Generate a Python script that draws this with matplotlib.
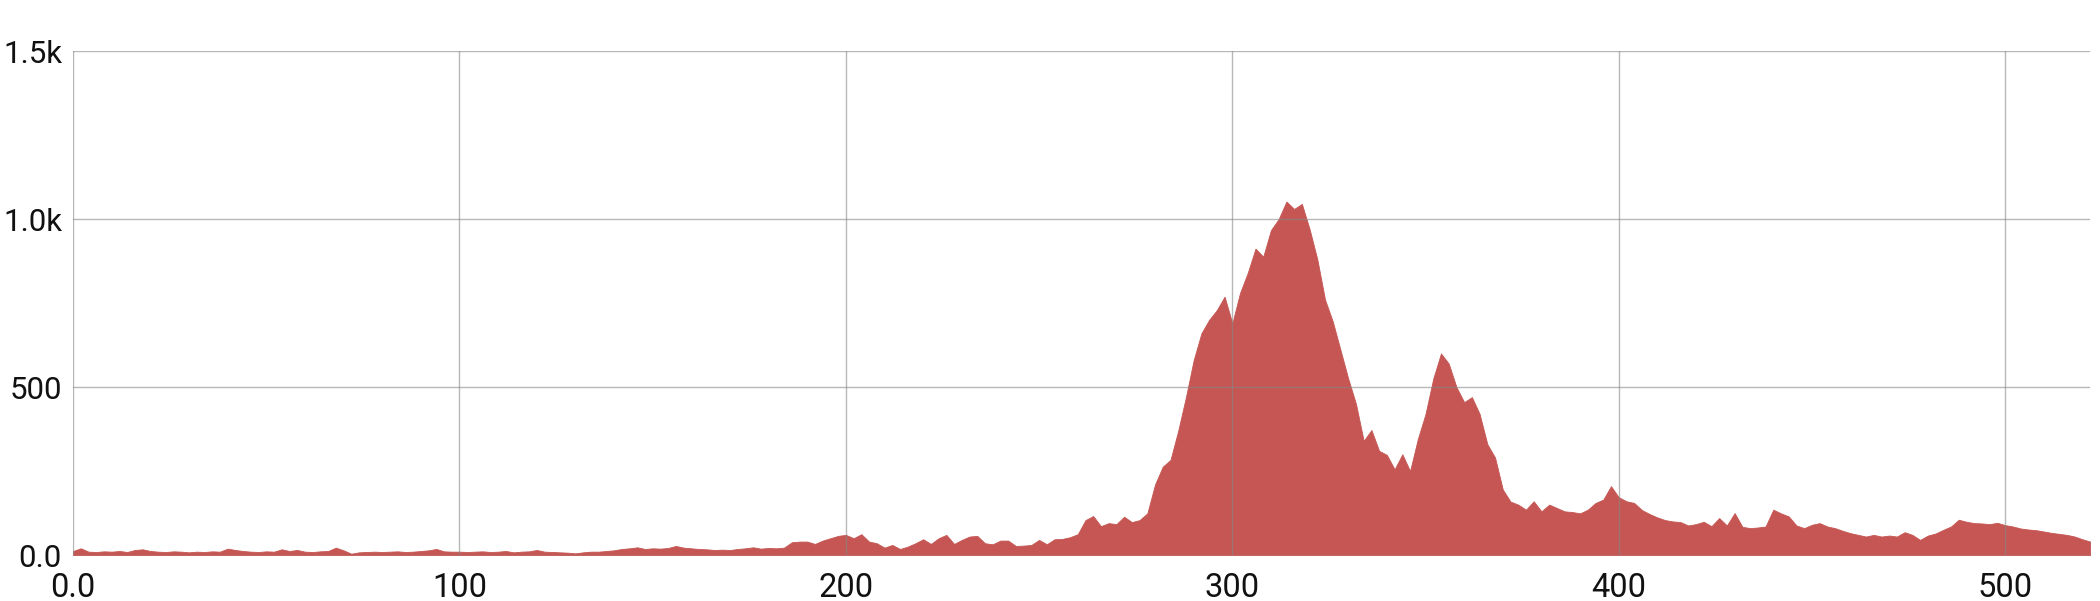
import matplotlib.pyplot as plt
from matplotlib.ticker import FixedLocator

plt.rcParams['font.family'] = ['Roboto', 'DejaVu Sans']

# x positions every 2 units
x = list(range(0, 524, 2))
y = [
    12, 20, 10, 9, 11, 10, 12, 9, 15, 17,        # 0-18
    12, 10, 9, 11, 10, 8, 10, 9, 11, 10,         # 20-38
    19, 15, 12, 10, 9, 11, 10, 17, 12, 15,       # 40-58
    10, 9, 11, 12, 22, 14, 4, 8, 9, 10,          # 60-78
    9, 10, 11, 9, 10, 12, 14, 18, 11, 10,        # 80-98
    10, 9, 10, 11, 9, 10, 12, 8, 10, 11,         # 100-118
    15, 10, 9, 8, 7, 5, 8, 10, 10, 12,           # 120-138
    14, 18, 20, 23, 18, 20, 19, 21, 27, 22,      # 140-158
    20, 18, 17, 15, 16, 15, 18, 20, 23, 19,      # 160-178
    21, 20, 22, 38, 40, 40, 33, 43, 50, 57,      # 180-198
    60, 50, 62, 40, 35, 22, 30, 18, 25, 35,      # 200-218
    47, 33, 50, 60, 33, 45, 55, 57, 35, 32,      # 220-238
    43, 43, 27, 28, 30, 45, 32, 47, 48, 53,      # 240-258
    62, 104, 116, 86, 95, 92, 114, 98, 104, 124,           # 260-278
    210, 263, 283, 370, 470, 580, 660, 700, 729, 769,      # 280-298
    690, 780, 840, 912, 888, 967, 1000, 1052, 1030, 1045,  # 300-318
    970, 880, 760, 695, 610, 525, 450, 340, 372, 310,      # 320-338
    298, 255, 300, 250, 345, 420, 525, 600, 570, 500,      # 340-358
    455, 470, 420, 330, 290, 195, 159, 150, 135, 160,      # 360-378
    130, 150, 140, 130, 128, 124, 135, 155, 165, 205,      # 380-398
    172, 160, 155, 134, 122, 112, 104, 100, 98, 88,        # 400-418
    92, 99, 86, 110, 88, 125, 84, 80, 82, 85,              # 420-438
    135, 124, 115, 88, 80, 90, 95, 85, 80, 72,             # 440-458
    65, 60, 55, 60, 55, 58, 55, 68, 60, 45,                # 460-478
    58, 64, 75, 85, 105, 99, 95, 94, 92, 96,               # 480-498
    89, 85, 79, 76, 74, 70, 66, 63, 60, 55,                # 500-518
    47, 40,                                                # 520-522
]

x_ticks = [0, 100, 200, 300, 400, 500]
x_labels = ['0.0', '100', '200', '300', '400', '500']
y_ticks = [0, 500, 1000, 1500]
y_labels = ['0.0', '500', '1.0k', '1.5k']

fig = plt.figure(figsize=(21, 6.01), dpi=100)
ax = fig.add_axes([0.0348, 0.0765, 0.9605, 0.8386])

ax.fill_between(x, 0, y, color='#c55653', linewidth=0.6, edgecolor='#c55653', zorder=1)

ax.set_xlim(0, 522)
ax.set_ylim(0, 1500)
ax.xaxis.set_major_locator(FixedLocator(x_ticks))
ax.yaxis.set_major_locator(FixedLocator(y_ticks))
ax.set_xticklabels(x_labels)
ax.set_yticklabels(y_labels)
ax.tick_params(axis='both', length=0, colors='#111111')
ax.tick_params(axis='x', pad=12, labelsize=23.5)
ax.tick_params(axis='y', pad=8, labelsize=22.5)

ax.grid(True, color='#888888', alpha=0.6, linewidth=1.0, zorder=2)
ax.set_axisbelow(False)
for s in ax.spines.values():
    s.set_visible(False)

fig.savefig('out.png', dpi=100)
